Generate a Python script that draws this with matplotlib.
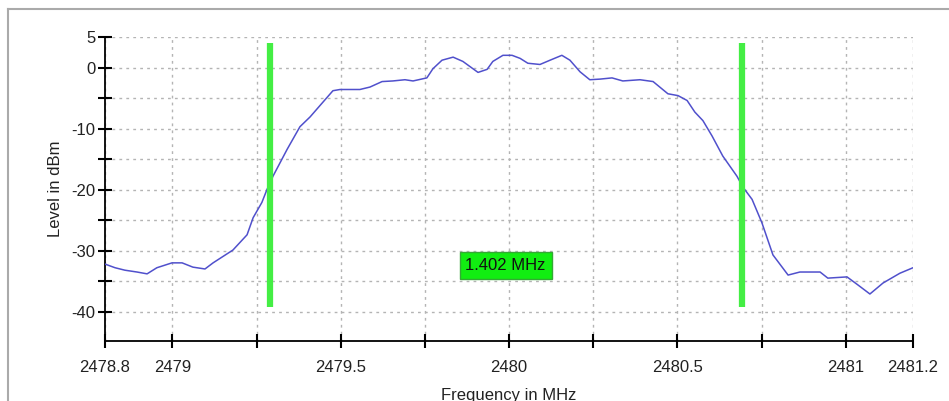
import matplotlib
matplotlib.use("Agg")
import matplotlib.pyplot as plt
from matplotlib.lines import Line2D

plt.rcParams['font.family'] = ['Liberation Sans', 'DejaVu Sans']

# Spectrum trace (frequency in MHz, level in dBm)
freq = [2478.800, 2478.830, 2478.859, 2478.895, 2478.925, 2478.954, 2478.999, 2479.029,
        2479.061, 2479.097, 2479.121, 2479.180, 2479.222, 2479.240, 2479.266, 2479.281,
        2479.299, 2479.341, 2479.379, 2479.409, 2479.439, 2479.477, 2479.498, 2479.557,
        2479.587, 2479.623, 2479.655, 2479.691, 2479.715, 2479.756, 2479.774, 2479.801,
        2479.834, 2479.863, 2479.908, 2479.935, 2479.952, 2479.982, 2480.009, 2480.033,
        2480.056, 2480.092, 2480.122, 2480.157, 2480.181, 2480.211, 2480.240, 2480.270,
        2480.306, 2480.338, 2480.389, 2480.428, 2480.472, 2480.502, 2480.529, 2480.552,
        2480.576, 2480.603, 2480.635, 2480.677, 2480.695, 2480.722, 2480.751, 2480.784,
        2480.829, 2480.864, 2480.924, 2480.947, 2481.004, 2481.036, 2481.072, 2481.111,
        2481.161, 2481.200]
level = [-32.2, -32.8, -33.2, -33.5, -33.8, -32.8, -32.0, -32.0,
         -32.7, -33.0, -32.0, -29.9, -27.4, -24.6, -22.1, -20.0,
         -17.8, -13.4, -9.7, -8.1, -6.2, -3.8, -3.6, -3.6,
         -3.2, -2.3, -2.2, -2.0, -2.2, -1.7, -0.2, 1.2,
         1.7, 1.0, -0.8, -0.3, 1.0, 2.0, 2.0, 1.5,
         0.7, 0.5, 1.2, 2.0, 1.2, -0.7, -2.0, -1.9,
         -1.7, -2.2, -2.0, -2.3, -4.3, -4.6, -5.4, -7.3,
         -8.7, -11.2, -14.5, -17.8, -19.6, -21.6, -25.4, -30.7,
         -34.0, -33.5, -33.5, -34.5, -34.3, -35.6, -37.1, -35.3,
         -33.7, -32.8]

# Bandwidth markers
marker_freqs = [2479.289, 2480.691]
marker_ymin, marker_ymax = -39.2, 4.0
bw_label = "1.402 MHz"
bw_label_pos = (2479.99, -32.4)

xticks = [2478.8, 2479, 2479.25, 2479.5, 2479.75, 2480, 2480.25, 2480.5, 2480.75, 2481, 2481.2]
xticklabels = ["2478.8", "2479", "", "2479.5", "", "2480", "", "2480.5", "", "2481", "2481.2"]
yticks = [5, 0, -5, -10, -15, -20, -25, -30, -35, -40]
yticklabels = ["5", "0", "", "-10", "", "-20", "", "-30", "", "-40"]

W, H = 949, 401
fig = plt.figure(figsize=(W / 100, H / 100), dpi=100)
ax = fig.add_axes([105 / W, 1 - 341 / H, (913 - 105) / W, (341 - 37) / H])

ax.set_xlim(2478.8, 2481.2)
ax.set_ylim(-44.8, 5)

ax.set_xticks(xticks)
ax.set_xticklabels(xticklabels)
ax.set_yticks(yticks)
ax.set_yticklabels(yticklabels)

ax.grid(True, color='#b4b4b4', linestyle=(0, (2, 3)), linewidth=1.0)
ax.set_axisbelow(True)

for s in ['top', 'right']:
    ax.spines[s].set_visible(False)
for s in ['left', 'bottom']:
    ax.spines[s].set_color('black')
    ax.spines[s].set_linewidth(1.3)

ax.tick_params(axis='both', direction='inout', length=10, width=1.5, colors='black',
               labelsize=12, labelcolor='#222222')
ax.tick_params(axis='y', pad=2)
ax.tick_params(axis='x', pad=9)

ax.plot(freq, level, color='#5050cc', linewidth=1.1, zorder=3)

for mf in marker_freqs:
    ax.plot([mf, mf], [marker_ymin, marker_ymax], color='#44ee44', linewidth=4.5,
            solid_capstyle='butt', zorder=4)

ax.text(bw_label_pos[0], bw_label_pos[1], bw_label, ha='center', va='center',
        fontsize=12, color='#111111', zorder=5,
        bbox=dict(boxstyle='square,pad=0.35', facecolor='#11ee11', edgecolor='#33aa33', linewidth=1))

ax.set_ylabel("Level in dBm", fontsize=12, color='#222222', labelpad=6)
ax.set_xlabel("Frequency in MHz", fontsize=12, color='#222222', labelpad=9)

# Outer frame border
fig.add_artist(Line2D([8 / W, 1.0], [1 - 9 / H, 1 - 9 / H], color='#aaaaaa', linewidth=1.5,
                      transform=fig.transFigure))
fig.add_artist(Line2D([8 / W, 8 / W], [0, 1 - 9 / H], color='#aaaaaa', linewidth=1.5,
                      transform=fig.transFigure))

fig.savefig("out.png", dpi=100)
